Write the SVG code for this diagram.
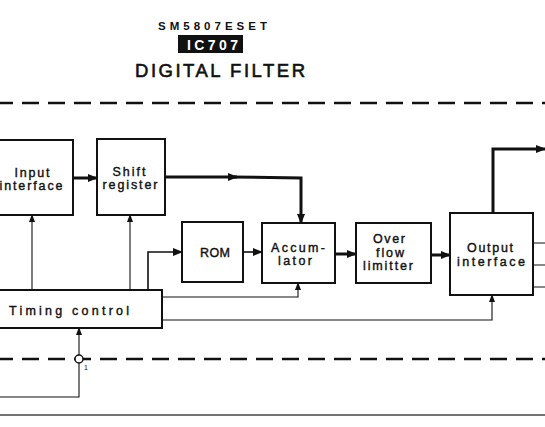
<svg xmlns="http://www.w3.org/2000/svg" width="545" height="427" viewBox="0 0 545 427">
<style>
.box{fill:#fff;stroke:#111;stroke-width:2}
.lbl{font-family:"Liberation Sans",Arial,sans-serif;font-size:12.5px;fill:#111;stroke:#111;stroke-width:0.4;text-anchor:middle}
.thick{fill:none;stroke:#111;stroke-width:3}
.med{fill:none;stroke:#111;stroke-width:1.6}
.thin{fill:none;stroke:#111;stroke-width:1.1}
.dash{fill:none;stroke:#111;stroke-width:2.6;stroke-dasharray:17 9}
.title{font-family:"Liberation Sans",Arial,sans-serif;fill:#111}
</style>
<defs>
<marker id="ah" markerUnits="userSpaceOnUse" markerWidth="10" markerHeight="8" refX="9" refY="4" orient="auto">
<path d="M0,0 L10,4 L0,8 Z" fill="#111"/>
</marker>
<marker id="ahs" markerUnits="userSpaceOnUse" markerWidth="8" markerHeight="6" refX="7" refY="3" orient="auto">
<path d="M0,0 L8,3 L0,6 Z" fill="#111"/>
</marker>
</defs>
<rect width="545" height="427" fill="#fff"/>

<g id="title">
<text class="title" x="158" y="30" font-size="11.5" font-weight="bold" textLength="109" lengthAdjust="spacing">SM5807ESET</text>
<rect x="178" y="35" width="65" height="18" fill="#111"/>
<text x="187" y="50" font-family="Liberation Sans, Arial, sans-serif" font-size="14" font-weight="bold" fill="#fff" textLength="51" lengthAdjust="spacing">IC707</text>
<text class="title" x="135" y="77" font-size="18.5" stroke="#111" stroke-width="0.6" textLength="170" lengthAdjust="spacing">DIGITAL FILTER</text>
</g>

<g id="boundaries">
<path class="dash" d="M-4,103 H545"/>
<path class="dash" d="M-4,359 H545"/>
<path d="M0,415 H545" fill="none" stroke="#444" stroke-width="1.5"/>
</g>

<g id="connectors">
<path class="thick" d="M73,178 H97" marker-end="url(#ah)"/>
<path class="thick" d="M165,177 H237" marker-end="url(#ah)"/>
<path class="thick" d="M230,177 L301,178 V223" marker-end="url(#ah)"/>
<path class="thin" d="M32,290 V215" marker-end="url(#ahs)"/>
<path class="thin" d="M130,290 V215" marker-end="url(#ahs)"/>
<path class="med" d="M148,290 V252 H182" marker-end="url(#ah)"/>
<path class="med" d="M243,252 H262" marker-end="url(#ah)"/>
<path class="thin" d="M162,297 H298 V283" marker-end="url(#ahs)"/>
<path class="thin" d="M162,320 H492 V295" marker-end="url(#ahs)"/>
<path class="thick" d="M335,254 H356" marker-end="url(#ah)"/>
<path class="thick" d="M431,255 H450" marker-end="url(#ah)"/>
<path class="thick" d="M493,213 V149 H545" marker-end="url(#ah)"/>
<path class="thin" d="M533,243 H545 M533,265 H545 M533,287 H545"/>
<path class="thin" d="M0,397 H79 V328" marker-end="url(#ahs)"/>
<circle cx="79" cy="359" r="4" fill="#fff" stroke="#111" stroke-width="1.5"/>
<text x="84" y="370" font-family="Liberation Sans, Arial, sans-serif" font-size="7" fill="#111">1</text>
</g>

<g id="input-interface">
<rect class="box" x="-10" y="140" width="83" height="75"/>
<text class="lbl" x="32" y="177" textLength="35" lengthAdjust="spacing">Input</text>
<text class="lbl" x="31" y="190" textLength="63" lengthAdjust="spacing">interface</text>
</g>

<g id="shift-register">
<rect class="box" x="97" y="139" width="68" height="76"/>
<text class="lbl" x="129" y="176" textLength="33" lengthAdjust="spacing">Shift</text>
<text class="lbl" x="130" y="189" textLength="55" lengthAdjust="spacing">register</text>
</g>

<g id="rom">
<rect class="box" x="182" y="222" width="61" height="60"/>
<text class="lbl" x="215" y="257" textLength="30" lengthAdjust="spacing">ROM</text>
</g>

<g id="accumulator">
<rect class="box" x="262" y="223" width="73" height="60"/>
<text class="lbl" x="298" y="252" textLength="54" lengthAdjust="spacing">Accum-</text>
<text class="lbl" x="295" y="265" textLength="34" lengthAdjust="spacing">lator</text>
</g>

<g id="overflow-limitter">
<rect class="box" x="356" y="223" width="75" height="60"/>
<text class="lbl" x="389" y="243" textLength="32" lengthAdjust="spacing">Over</text>
<text class="lbl" x="390" y="257" textLength="28" lengthAdjust="spacing">flow</text>
<text class="lbl" x="388" y="270" textLength="50" lengthAdjust="spacing">limitter</text>
</g>

<g id="output-interface">
<rect class="box" x="450" y="213" width="83" height="82"/>
<text class="lbl" x="490" y="252" textLength="46" lengthAdjust="spacing">Output</text>
<text class="lbl" x="491" y="266" textLength="68" lengthAdjust="spacing">interface</text>
</g>

<g id="timing-control">
<rect class="box" x="-10" y="290" width="172" height="38"/>
<text class="lbl" x="69" y="315" textLength="120" lengthAdjust="spacing">Timing control</text>
</g>
</svg>
